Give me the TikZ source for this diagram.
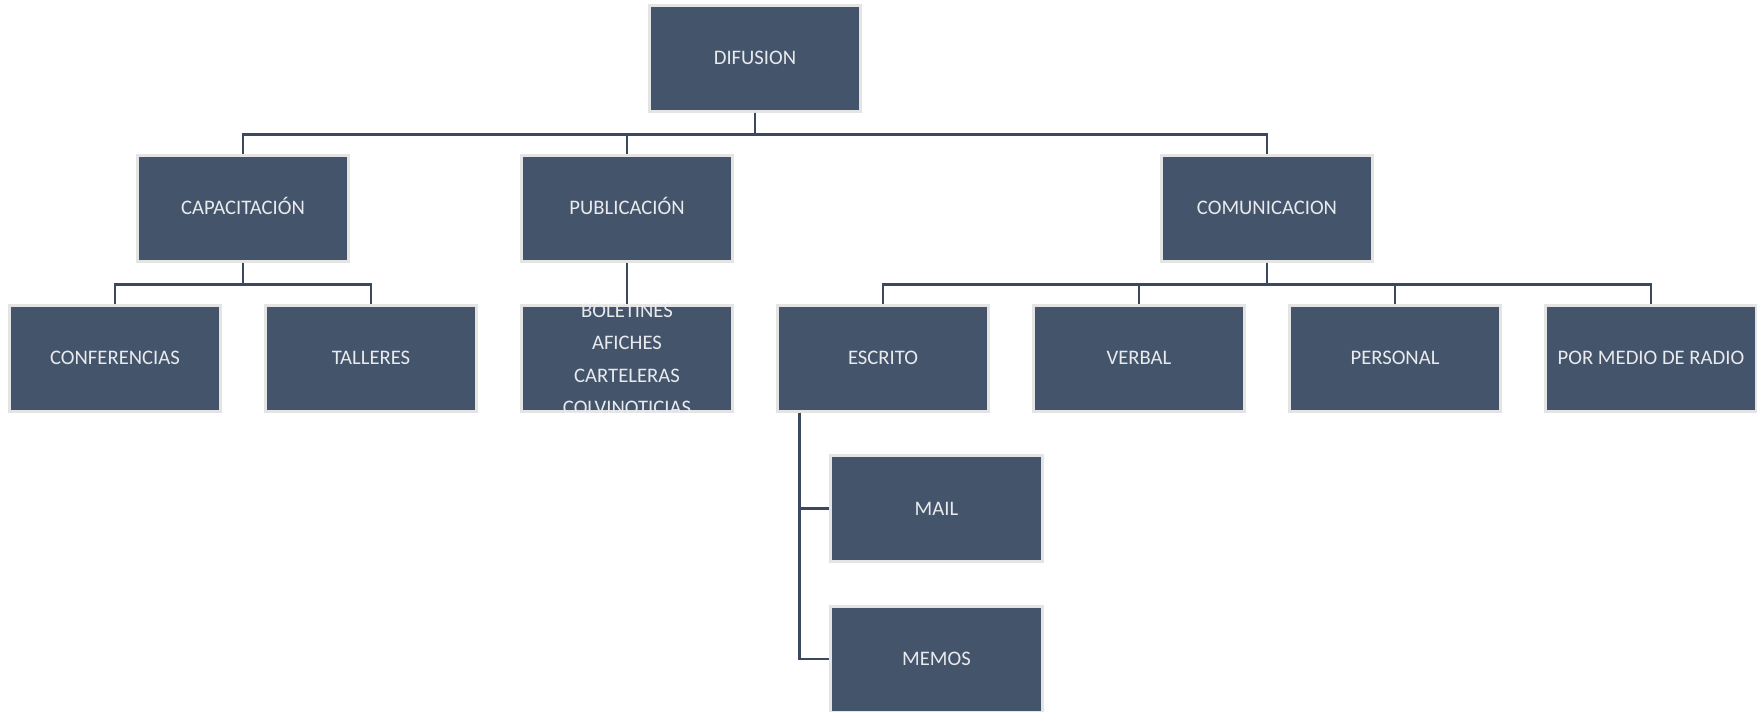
\documentclass[tikz,border=0pt]{standalone}
\usepackage{fontspec}
\setmainfont{Carlito}
\definecolor{boxfill}{HTML}{44546A}
\definecolor{boxedge}{HTML}{E4E4E4}
\definecolor{linecol}{HTML}{3A4860}
\definecolor{txtcol}{HTML}{E8EAEE}
\tikzset{
  x=0.75pt, y=-0.75pt,
  orgbox/.style={draw=boxedge, fill=boxfill, line width=2.25pt,
    minimum width=158.5pt, minimum height=79.5pt, inner sep=0pt,
    text height=12pt, text depth=2pt,
    text=txtcol, font=\fontsize{15.5}{18}\selectfont},
  conn/.style={draw=linecol, line width=2.2pt}
}
\begin{document}
\begin{tikzpicture}
\useasboundingbox (0,0) rectangle (1757,711);
% nodes
\node[orgbox] (dif) at (755,58) {DIFUSION};
\node[orgbox] (cap) at (243,208) {CAPACITACIÓN};
\node[orgbox] (pub) at (627,208) {PUBLICACIÓN};
\node[orgbox] (com) at (1267,208) {COMUNICACION};
\node[orgbox] (conf) at (115,358) {CONFERENCIAS};
\node[orgbox] (tall) at (371,358) {TALLERES};
\node[orgbox] (bol) at (627,358) {};
\node[orgbox] (esc) at (883,358) {ESCRITO};
\node[orgbox] (verb) at (1139,358) {VERBAL};
\node[orgbox] (pers) at (1395,358) {PERSONAL};
\node[orgbox] (radio) at (1651,358) {POR MEDIO DE RADIO};
\node[orgbox] (mail) at (936.5,508.5) {MAIL};
\node[orgbox] (memo) at (936.5,659) {MEMOS};
\begin{scope}
\clip (bol.north west) rectangle (bol.south east);
\node[text=txtcol, align=center, inner sep=0pt, font=\fontsize{15.5}{24.4}\selectfont] (boltxt) at (627,359.5) {BOLETINES\\AFICHES\\CARTELERAS\\COLVINOTICIAS};
\end{scope}
% connectors
\draw[conn] (dif.south) -- ++(0,22) -| (cap.north);
\draw[conn] (dif.south) -- ++(0,22) -| (pub.north);
\draw[conn] (dif.south) -- ++(0,22) -| (com.north);
\draw[conn] (cap.south) -- ++(0,22) -| (conf.north);
\draw[conn] (cap.south) -- ++(0,22) -| (tall.north);
\draw[conn] (pub.south) -- (bol.north);
\draw[conn] (com.south) -- ++(0,22) -| (esc.north);
\draw[conn] (com.south) -- ++(0,22) -| (verb.north);
\draw[conn] (com.south) -- ++(0,22) -| (pers.north);
\draw[conn] (com.south) -- ++(0,22) -| (radio.north);
\coordinate (escleg) at ([xshift=17.5pt]esc.south west);
\draw[conn] (escleg) |- (mail.west);
\draw[conn] (escleg) |- (memo.west);
\end{tikzpicture}
\end{document}
